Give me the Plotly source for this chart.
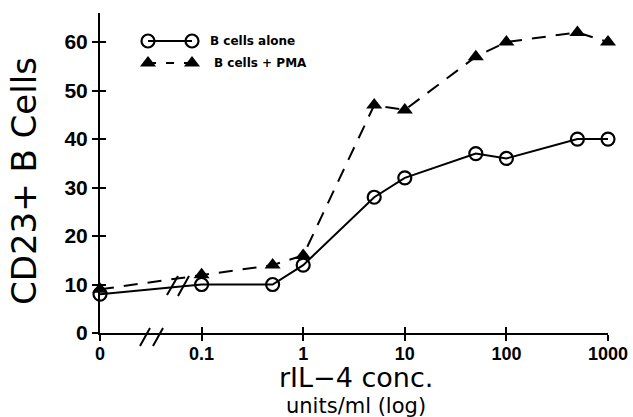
import plotly.graph_objects as go

# ---- data ----
conc_labels = ["0", "0.1", "1", "10", "100", "1000"]
conc_tick_vals = [0.01, 0.1, 1, 10, 100, 1000]   # "0" is plotted one decade below 0.1 (axis break)
conc = [0.01, 0.1, 0.5, 1, 5, 10, 50, 100, 500, 1000]
b_alone = [8, 10, 10, 14, 28, 32, 37, 36, 40, 40]
b_pma = [9, 12, 14, 16, 47, 46, 57, 60, 62, 60]
y_ticks = [0, 10, 20, 30, 40, 50, 60]
series_names = ["B cells alone", "B cells + PMA"]

W, H = 633, 417
L, R, T, B = 100, 25, 13, 84

fig = go.Figure()

fig.add_trace(go.Scatter(
    x=conc, y=b_alone, mode="lines+markers", name=series_names[0],
    line=dict(color="black", width=2),
    marker=dict(symbol="circle-open", size=13, color="black", line=dict(width=2.2)),
    showlegend=False, cliponaxis=False))
fig.add_trace(go.Scatter(
    x=conc, y=b_pma, mode="lines+markers", name=series_names[1],
    line=dict(color="black", width=2, dash="14px,10px"),
    marker=dict(symbol="triangle-up", size=14, color="black"),
    showlegend=False, cliponaxis=False))

# overlay axes for the inside half of the crossing ticks
fig.add_trace(go.Scatter(x=[1], y=[1], xaxis="x2", yaxis="y2", mode="markers",
                         marker=dict(opacity=0), hoverinfo="skip", showlegend=False))

# custom legend samples (pixel-space helper axes)
fig.add_trace(go.Scatter(x=[148, 192], y=[41, 41], xaxis="x3", yaxis="y3",
                         mode="lines+markers", line=dict(color="black", width=2),
                         marker=dict(symbol="circle-open", size=13, color="black", line=dict(width=2.2)),
                         hoverinfo="skip", showlegend=False))
fig.add_trace(go.Scatter(x=[148, 192], y=[63, 63], xaxis="x3", yaxis="y3",
                         mode="lines+markers", line=dict(color="black", width=2, dash="8px,10px"),
                         marker=dict(symbol="triangle-up", size=14, color="black"),
                         hoverinfo="skip", showlegend=False))

tickfont_x = dict(family="Liberation Sans", size=18, color="black", weight="bold")
tickfont_y = dict(family="Liberation Sans", size=21, color="black", weight="bold")

xr = [-2, 3]
yr = [0, 66]

fig.update_layout(
    width=W, height=H,
    margin=dict(l=L, r=R, t=T, b=B, autoexpand=False),
    paper_bgcolor="white", plot_bgcolor="white",
    xaxis=dict(type="log", range=xr, tickvals=conc_tick_vals, ticktext=conc_labels,
               ticks="outside", ticklen=6, tickwidth=2, tickcolor="black",
               showline=True, linecolor="black", linewidth=2, showgrid=False,
               zeroline=False, tickfont=tickfont_x, automargin=False,
               ticklabelstandoff=-3),
    yaxis=dict(range=yr, tickvals=y_ticks, ticks="outside", ticklen=6, tickwidth=2,
               tickcolor="black", showline=True, linecolor="black", linewidth=2,
               showgrid=False, zeroline=False, tickfont=tickfont_y, automargin=False),
    xaxis2=dict(type="log", range=xr, overlaying="x", tickvals=conc_tick_vals,
                ticks="inside", ticklen=6, tickwidth=2, tickcolor="black",
                showticklabels=False, showline=False, showgrid=False, zeroline=False,
                automargin=False),
    yaxis2=dict(range=yr, overlaying="y", tickvals=y_ticks, ticks="inside", ticklen=6,
                tickwidth=2, tickcolor="black", showticklabels=False, showline=False,
                showgrid=False, zeroline=False, automargin=False),
    xaxis3=dict(range=[L, W - R], overlaying="x", visible=False, fixedrange=True,
                automargin=False),
    yaxis3=dict(range=[H - B, T], overlaying="y", visible=False, fixedrange=True,
                automargin=False),
)

def px2paper(px, py):
    return (px - L) / (W - L - R), (H - B - py) / (H - T - B)

shapes = []
# axis break on x-axis and data-line break
for (x0, y0, x1, y1) in [(140, 346, 150, 328), (153, 346, 163, 328),
                         (167, 295, 178, 276), (178, 296, 189, 276)]:
    a0, b0 = px2paper(x0, y0)
    a1, b1 = px2paper(x1, y1)
    shapes.append(dict(type="line", xref="paper", yref="paper", x0=a0, y0=b0, x1=a1, y1=b1,
                       line=dict(color="black", width=2)))
fig.update_layout(shapes=shapes)

ann = []
lx, ly = px2paper(208, 41)
ann.append(dict(x=lx, y=ly, xref="paper", yref="paper", text=series_names[0], showarrow=False,
                xanchor="left", yanchor="middle",
                font=dict(family="DejaVu Sans", size=12, color="black", weight="bold")))
lx, ly = px2paper(212, 63)
ann.append(dict(x=lx, y=ly, xref="paper", yref="paper", text=series_names[1], showarrow=False,
                xanchor="left", yanchor="middle",
                font=dict(family="DejaVu Sans", size=12, color="black", weight="bold")))
# axis titles
tx, ty = px2paper(356, 377)
ann.append(dict(x=tx, y=ty, xref="paper", yref="paper", text="rIL\u22124 conc.", showarrow=False,
                xanchor="center", yanchor="middle",
                font=dict(family="DejaVu Sans", size=27, color="black")))
tx, ty = px2paper(356, 406)
ann.append(dict(x=tx, y=ty, xref="paper", yref="paper", text="units/ml (log)", showarrow=False,
                xanchor="center", yanchor="middle",
                font=dict(family="DejaVu Sans", size=21, color="black")))
tx, ty = px2paper(24, 181)
ann.append(dict(x=tx, y=ty, xref="paper", yref="paper", text="CD23+ B Cells", showarrow=False,
                xanchor="center", yanchor="middle", textangle=-90,
                font=dict(family="DejaVu Sans", size=34, color="black")))
fig.update_layout(annotations=ann)

fig.write_html("out.html", config={"displayModeBar": False},
               post_script="document.body.style.margin='0';document.body.style.overflow='hidden';")
